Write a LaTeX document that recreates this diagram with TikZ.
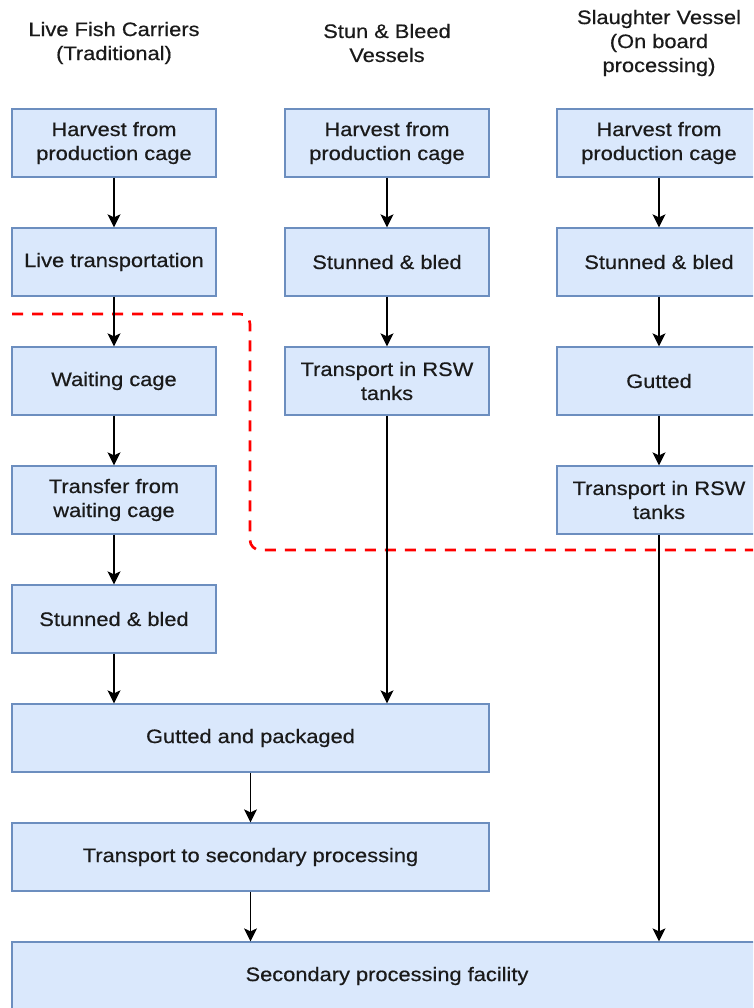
\documentclass[tikz,border=0pt]{standalone}
\usepackage{fontspec}
\setmainfont{Liberation Sans}[FakeStretch=1.12, FakeBold=0.5]
\usetikzlibrary{arrows.meta}
\definecolor{boxfill}{HTML}{DAE8FC}
\definecolor{boxline}{HTML}{6C8EBF}
\definecolor{txt}{HTML}{1A1A1A}
\begin{document}
\begin{tikzpicture}[x=1pt,y=-1pt,
  every node/.style={font=\fontsize{19.5}{24}\selectfont, text=txt, align=center},
  stage/.style={draw=boxline, fill=boxfill, line width=1.3pt, inner sep=0pt,
                minimum width=204pt, minimum height=68pt},
  flow/.style={line width=1.4pt, -{Stealth[length=13pt,width=13pt,inset=3pt]}},
  title/.style={inner sep=0pt}]
\clip (0,0) rectangle (753,1008);
\fill[white] (0,0) rectangle (753,1008);

% column headings
\node[title] (t1) at (114,43) {Live Fish Carriers\\(Traditional)};
\node[title] (t2) at (387,43) {Stun \& Bleed\\Vessels};
\node[title] (t3) at (659,43) {Slaughter Vessel\\(On board\\processing)};

% live fish carriers
\node[stage] (a1) at (114,143) {Harvest from\\production cage};
\node[stage] (a2) at (114,262) {Live transportation};
\node[stage] (a3) at (114,381) {Waiting cage};
\node[stage] (a4) at (114,500) {Transfer from\\waiting cage};
\node[stage] (a5) at (114,619) {Stunned \& bled};

% stun and bleed vessels
\node[stage] (b1) at (387,143) {Harvest from\\production cage};
\node[stage] (b2) at (387,262) {Stunned \& bled};
\node[stage] (b3) at (387,381) {Transport in RSW\\tanks};

% slaughter vessel
\node[stage] (c1) at (659,143) {Harvest from\\production cage};
\node[stage] (c2) at (659,262) {Stunned \& bled};
\node[stage] (c3) at (659,381) {Gutted};
\node[stage] (c4) at (659,500) {Transport in RSW\\tanks};

% shared processing
\node[stage, minimum width=477pt] (g) at (250.5,738) {Gutted and packaged};
\node[stage, minimum width=477pt] (h) at (250.5,857) {Transport to secondary processing};
\node[stage, minimum width=750pt] (s) at (387,976) {Secondary processing facility};

% vessel boundary
\draw[red, line width=2.6pt, dash pattern=on 11pt off 9pt, rounded corners=10pt]
  (12,314) -- (250,314) -- (250,550) -- (760,550);

% flows
\draw[flow] (a1) -- (a2);
\draw[flow] (a2) -- (a3);
\draw[flow] (a3) -- (a4);
\draw[flow] (a4) -- (a5);
\draw[flow] (a5.south) -- (a5.south |- g.north);
\draw[flow] (b1) -- (b2);
\draw[flow] (b2) -- (b3);
\draw[flow] (b3.south) -- (b3.south |- g.north);
\draw[flow] (c1) -- (c2);
\draw[flow] (c2) -- (c3);
\draw[flow] (c3) -- (c4);
\draw[flow] (c4.south) -- (c4.south |- s.north);
\draw[flow] (g) -- (h);
\draw[flow] (h.south) -- (h.south |- s.north);
\end{tikzpicture}
\end{document}
